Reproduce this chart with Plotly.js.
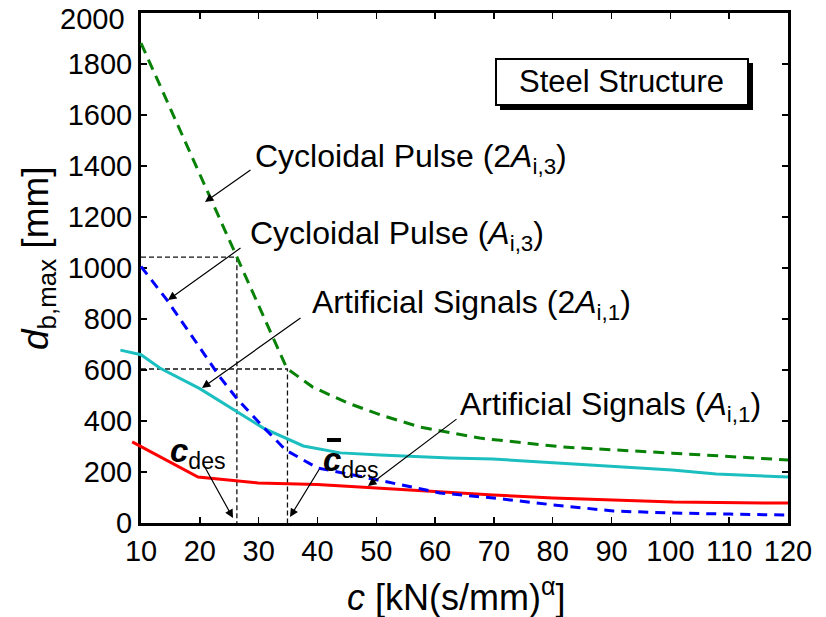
<!DOCTYPE html>
<html>
<head>
<meta charset="utf-8">
<script src="https://cdn.plot.ly/plotly-3.0.1.min.js"></script>
<style>html,body{margin:0;padding:0;background:#fff;}#chart{width:826px;height:617px;}</style>
</head>
<body>
<div id="chart"></div>
<script>
// ---- data ----
const xTicks = [10, 20, 30, 40, 50, 60, 70, 80, 90, 100, 110, 120];
const yTicks = [0, 200, 400, 600, 800, 1000, 1200, 1400, 1600, 1800, 2000];

const cycl2A_c = [10, 20, 30, 34.8, 39.2, 45.1, 50.7, 57.5, 67.6, 81.7, 100.3, 111.7, 120];
const cycl2A_d = [1882, 1370, 852, 606, 533, 471, 424, 376, 333, 298, 274, 259, 247];

const cyclA_c = [10, 14.4, 20, 23.4, 26.3, 30.8, 34.6, 40, 50.2, 60.8, 69.9, 80.1, 90.3, 100.5, 110.2, 120];
const cyclA_d = [1006, 875, 688, 573, 488, 376, 286, 216, 169, 118, 98, 71, 47, 39, 35, 31];

const art2A_c = [6.5, 10, 13.2, 20, 26.4, 30.8, 37.6, 43.9, 50.7, 62.5, 69.8, 80.7, 100.3, 107.8, 120];
const art2A_d = [678, 660, 608, 527, 435, 372, 302, 275, 267, 255, 251, 235, 208, 192, 180];

const artA_c = [8.5, 19.7, 29.9, 40, 50, 60.8, 69.9, 80, 100.5, 120];
const artA_d = [318, 180, 157, 151, 137, 121, 110, 98, 82, 78];

const cDes = [26.3, 34.9];       // c_des and c-bar_des
const dLimit = [1043, 604];      // corresponding displacement limits

// ---- layout geometry helpers (pixel -> paper) ----
const L = 120, R = 38, T = 13, B = 94, WIDTH = 826, HEIGHT = 617;
const PW = WIDTH - L - R, PH = HEIGHT - T - B;
const px = x => (x - L) / PW;
const py = y => (HEIGHT - B - y) / PH;
const axStart = (141 - L) / PW;               // visible axis domain start
const r0 = 120 - 110 / (1 - axStart);         // matching range for wide subplot

const FONT = 'Arial, "Liberation Sans", sans-serif';

const traces = [];
// reference dashed lines (on visible xy subplot)
for (let i = 0; i < cDes.length; i++) {
  traces.push({
    x: [xTicks[0], cDes[i], cDes[i]], y: [dLimit[i], dLimit[i], yTicks[0]],
    xaxis: 'x', yaxis: 'y', mode: 'lines', hoverinfo: 'skip',
    line: {color: '#111111', width: 1.3, dash: '5px,3px'}
  });
}
// curves on wider, invisible subplot so they may extend left of the axis
traces.push({x: art2A_c, y: art2A_d, xaxis: 'x2', yaxis: 'y2', mode: 'lines',
  line: {color: '#1cbfbf', width: 3}});
traces.push({x: artA_c, y: artA_d, xaxis: 'x2', yaxis: 'y2', mode: 'lines',
  line: {color: '#ff0000', width: 3}});
traces.push({x: cyclA_c, y: cyclA_d, xaxis: 'x2', yaxis: 'y2', mode: 'lines',
  line: {color: '#0000ff', width: 3, dash: '10px,7px'}});
traces.push({x: cycl2A_c, y: cycl2A_d, xaxis: 'x2', yaxis: 'y2', mode: 'lines',
  line: {color: '#078207', width: 3, dash: '11px,7px'}});

const axisCommon = {
  ticks: 'inside', ticklen: 6, tickwidth: 1.5, tickcolor: '#000',
  showline: true, linewidth: 3, linecolor: '#000', mirror: 'ticks',
  showgrid: false, zeroline: false, fixedrange: true,
  tickfont: {family: FONT, size: 29, color: '#000'}
};

// top y label is drawn as a separate text slightly lowered (as in the reference)
const yTopLabel = yTicks[yTicks.length - 1];
const yTickText = yTicks.map(v => (v === yTopLabel ? '' : String(v)));

function label(text, x, y, size) {
  return {text: text, xref: 'paper', yref: 'paper', x: px(x), y: py(y),
    xanchor: 'left', yanchor: 'middle', showarrow: false,
    font: {family: FONT, size: size || 32, color: '#000'}};
}
function arrow(hx, hy, tx, ty) {
  return {text: '', xref: 'paper', yref: 'paper', x: px(hx), y: py(hy),
    ax: tx - hx, ay: ty - hy, showarrow: true, arrowhead: 2, arrowsize: 1.4,
    arrowwidth: 1.2, arrowcolor: '#000', standoff: 0};
}

const annotations = [
  {text: String(yTopLabel), xref: 'paper', yref: 'paper', x: px(127), y: py(19),
    xanchor: 'right', yanchor: 'middle', showarrow: false,
    font: {family: FONT, size: 29, color: '#000'}},
  label('Cycloidal Pulse (2<i>A</i><sub>i,3</sub>)', 253, 158),
  arrow(205, 202, 252, 169),
  label('Cycloidal Pulse (<i>A</i><sub>i,3</sub>)', 248, 235),
  arrow(168, 300, 242, 247),
  label('Artificial Signals (2<i>A</i><sub>i,1</sub>)', 310, 304),
  arrow(202, 388, 302, 317),
  label('Artificial Signals (<i>A</i><sub>i,1</sub>)', 458, 406),
  arrow(368, 486, 458, 418),
  label('<b><i>c</i></b><sub>des</sub>', 168, 453, 33),
  arrow(233, 518, 202, 462),
  label('<b><i>c</i></b><sub>des</sub>', 321, 462, 33),
  arrow(290, 517, 320, 468),
  {text: 'Steel Structure', xref: 'paper', yref: 'paper', x: px(621), y: py(82),
    xanchor: 'center', yanchor: 'middle', showarrow: false,
    font: {family: FONT, size: 31, color: '#000'}},
  {text: '<i>c</i> [kN(s/mm)<sup>α</sup>]', xref: 'paper', yref: 'paper',
    x: px(456), y: py(595), xanchor: 'center', yanchor: 'middle', showarrow: false,
    font: {family: FONT, size: 36, color: '#000'}},
  {text: '<i>d</i><sub>b,max</sub> [mm]', xref: 'paper', yref: 'paper',
    x: px(38), y: py(258), xanchor: 'center', yanchor: 'middle', showarrow: false,
    textangle: -90, font: {family: FONT, size: 37, color: '#000'}}
];

const shapes = [
  // overbar of c-bar
  {type: 'line', xref: 'paper', yref: 'paper', x0: px(327), x1: px(341), y0: py(440), y1: py(440),
    line: {color: '#000', width: 4}},
  // box shadow and box
  {type: 'rect', xref: 'paper', yref: 'paper', x0: px(500), x1: px(753), y0: py(110), y1: py(63),
    fillcolor: '#000', line: {width: 0}, layer: 'above'},
  {type: 'rect', xref: 'paper', yref: 'paper', x0: px(496), x1: px(748), y0: py(105), y1: py(59),
    fillcolor: '#fff', line: {color: '#000', width: 2}, layer: 'above'}
];

const layout = {
  width: WIDTH, height: HEIGHT,
  margin: {l: L, r: R, t: T, b: B, pad: 0},
  paper_bgcolor: '#fff', plot_bgcolor: 'rgba(0,0,0,0)',
  showlegend: false,
  font: {family: FONT, color: '#000'},
  xaxis: Object.assign({}, axisCommon, {domain: [axStart, 1], range: [10, 120],
    tickmode: 'array', tickvals: xTicks, anchor: 'y', ticklabelstandoff: 0}),
  yaxis: Object.assign({}, axisCommon, {domain: [0, 1], range: [0, 2000.01],
    tickmode: 'array', tickvals: yTicks, ticktext: yTickText, anchor: 'x', ticklabelstandoff: 0}),
  xaxis2: {domain: [0, 1], range: [r0, 120], visible: false, anchor: 'y2', fixedrange: true},
  yaxis2: {domain: [0, 1], range: [0, 2000.01], visible: false, anchor: 'x2', fixedrange: true},
  annotations: annotations,
  shapes: shapes
};

Plotly.newPlot('chart', traces, layout, {displayModeBar: false, staticPlot: true});
</script>
</body>
</html>
